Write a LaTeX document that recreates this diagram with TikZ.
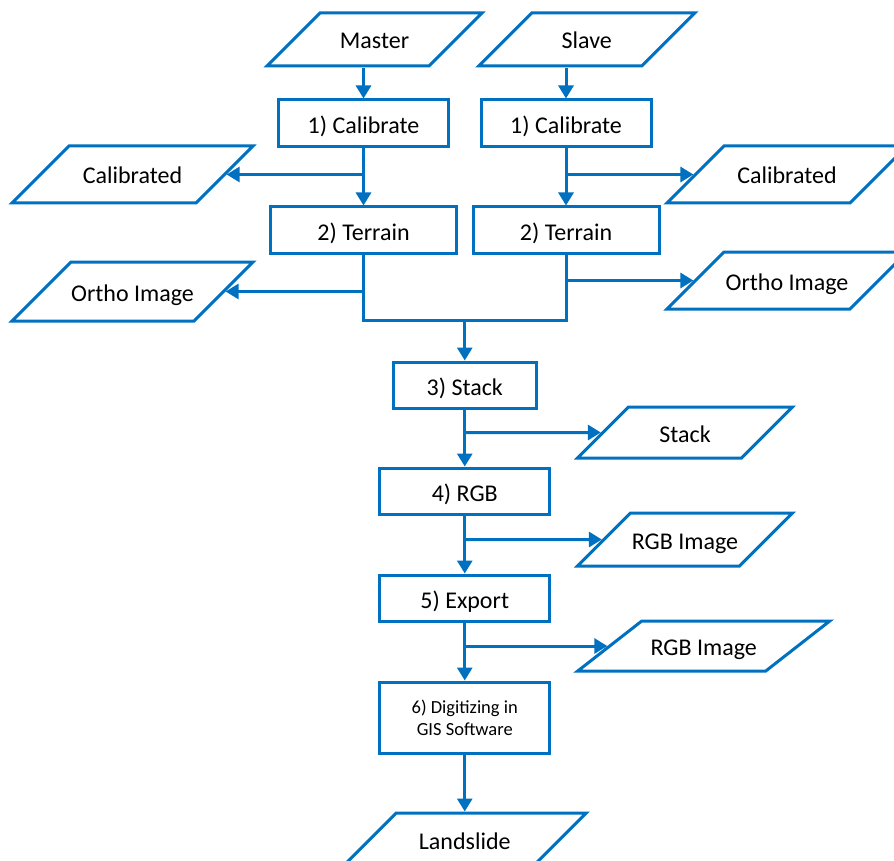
\documentclass[tikz,border=0pt]{standalone}
\usepackage{fontspec}
\setmainfont{Carlito}
\usetikzlibrary{shapes.geometric, arrows.meta}
\definecolor{flowblue}{RGB}{0,112,192}

\begin{document}
\begin{tikzpicture}[x = 1pt, y = -1pt,
		every node/.style = {font = \fontsize{24}{28}\selectfont, inner sep = 0pt},
		box/.style = {draw = flowblue, line width = 3pt, rectangle, minimum width = 170pt, minimum height = 46pt},
		proc/.style = {box, text height = 24pt, text depth = 3pt},
		data/.style = {draw = flowblue, line width = 3pt, trapezium, trapezium left angle = 45, trapezium right angle = 135,
			trapezium stretches body, text height = 20pt, text depth = 1pt, inner xsep = 0pt, inner ysep = 16pt, minimum width = 215pt},
		line/.style = {draw = flowblue, line width = 3pt},
		arr/.style = {line, -{Triangle[length = 13pt, width = 15pt]}}]
	\clip (0, 0) rectangle (894, 861);
		\node[data] (master) at (374.5, 39.5) {Master};
		\node[data, minimum width = 216pt] (slave) at (586.75, 39.5) {Slave};
		\node[proc, minimum height = 47pt] (cal1) at (363.5, 123.5) {1) Calibrate};
		\node[proc, minimum height = 47pt] (cal2) at (566, 123.5) {1) Calibrate};
		\node[data, minimum width = 241pt, inner ysep = 18pt] (calL) at (132.5, 174.5) {Calibrated};
		\node[data, minimum width = 240pt, inner ysep = 18pt] (calR) at (787, 174.5) {Calibrated};
		\node[proc, minimum width = 186pt] (ter1) at (363.5, 230) {2) Terrain};
		\node[proc, minimum width = 186pt] (ter2) at (566, 230) {2) Terrain};
		\node[data, minimum width = 241pt, inner ysep = 19pt] (orthoL) at (132.5, 291.5) {Ortho Image};
		\node[data, minimum width = 240pt, inner ysep = 18pt] (orthoR) at (787, 280.5) {Ortho Image};
		\coordinate (join) at (464.75, 320);
		\node[proc, minimum width = 143pt] (stack) at (464.75, 385) {3) Stack};
		\node[data, inner ysep = 15pt] (stackD) at (685, 432.5) {Stack};
		\node[proc] (rgb) at (464.75, 491) {4) RGB};
		\node[data] (rgbD) at (685, 539.5) {RGB Image};
		\node[proc] (export) at (464.75, 598) {5) Export};
		\node[data, minimum width = 252pt, inner ysep = 14.5pt, trapezium left angle = 38, trapezium right angle = 142] (exportD) at (703.75, 646) {RGB Image};
		\node[box, minimum height = 71pt, align = center, font = \fontsize{18.5}{22}\selectfont] (gis) at (464.75, 717.5) {6) Digitizing in\\GIS Software};
		\node[data, minimum width = 243pt] (land) at (464.75, 839.5) {Landslide};

		\draw[arr] (cal1 |- master.south) -- (cal1);
		\draw[arr] (cal2 |- slave.south) -- (cal2);
		\draw[arr] (cal1) -- (ter1);
		\draw[arr] (cal2) -- (ter2);
		\draw[arr] (cal1 |- calL) -- (calL);
		\draw[arr] (cal2 |- calR) -- (calR);
		\draw[arr] (ter1 |- orthoL) -- (orthoL);
		\draw[arr] (ter2 |- orthoR) -- (orthoR);
		\draw[line] (ter1.south) |- (join) -| (ter2.south);
		\draw[arr] (join) -- (stack);
		\draw[arr] (stack) -- (rgb);
		\draw[arr] (stack |- stackD) -- (stackD);
		\draw[arr] (rgb) -- (export);
		\draw[arr] (rgb |- rgbD) -- (rgbD);
		\draw[arr] (export) -- (gis);
		\draw[arr] (export |- exportD) -- (exportD);
		\draw[arr] (gis) -- (land);
\end{tikzpicture}
\end{document}
